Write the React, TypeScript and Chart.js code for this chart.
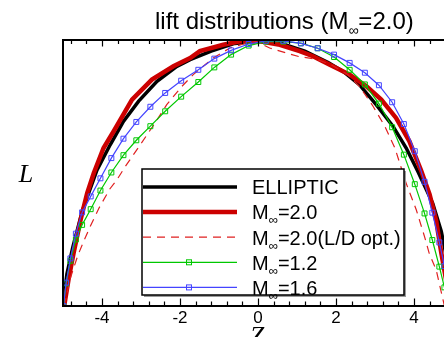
import React, { useEffect, useRef } from "react";
import { Chart, registerables } from "chart.js";
Chart.register(...registerables);

// ---- text ----
const titleMain = "lift distributions (M";
const titleSub = "∞";
const titleTail = "=2.0)";
const xAxisLabel = "Z";
const yAxisLabel = "L";
const xTickValues = [-4, -2, 0, 2, 4];
const xMin = -5;
const xMax = 5;
const yMin = 0;
const yMax = 1;
const minorStep = 0.4;

// ---- series ----
const ellipticX = [-5, -4.9, -4.75, -4.5, -4.13, -3.79, -3.45, -3.06, -2.59, -2.08, -1.74, -1.2, -0.6, 0, 0.6, 1.2, 1.8, 2.2, 2.6, 3.03, 3.46, 3.8, 4.1, 4.48, 4.7, 4.85, 5];
const ellipticL = [0, 0.12, 0.22, 0.36, 0.511, 0.606, 0.694, 0.77, 0.845, 0.901, 0.926, 0.958, 0.987, 0.995, 0.987, 0.958, 0.915, 0.88, 0.832, 0.757, 0.676, 0.594, 0.506, 0.386, 0.28, 0.17, 0];

const m20X = [-4.97, -4.86, -4.73, -4.55, -4.38, -4.21, -3.96, -3.7, -3.23, -2.72, -2.17, -1.74, -1.49, -0.89, -0.46, 0.05, 0.56, 1.07, 1.41, 1.84, 2.35, 2.78, 3.16, 3.54, 3.88, 4.18, 4.4, 4.57, 4.7, 4.82, 4.93];
const m20L = [0, 0.098, 0.198, 0.323, 0.424, 0.5, 0.594, 0.657, 0.776, 0.851, 0.901, 0.932, 0.958, 0.982, 0.995, 0.995, 0.982, 0.958, 0.939, 0.907, 0.87, 0.826, 0.776, 0.707, 0.62, 0.51, 0.42, 0.32, 0.2, 0.1, 0];

const m20OptX = [-4.97, -4.8, -4.62, -4.45, -4.3, -4.07, -3.8, -3.62, -3.4, -3.02, -2.64, -2.34, -1.95, -1.66, -1.15, -0.72, -0.29, -0.05, 0.3, 0.73, 1.07, 1.5, 1.9, 2.3, 2.6, 2.95, 3.25, 3.51, 3.8, 4.06, 4.27, 4.39, 4.57, 4.78];
const m20OptL = [0, 0.11, 0.19, 0.25, 0.3, 0.37, 0.44, 0.474, 0.525, 0.606, 0.688, 0.757, 0.826, 0.87, 0.932, 0.97, 0.989, 0.995, 0.97, 0.951, 0.937, 0.928, 0.905, 0.87, 0.826, 0.751, 0.676, 0.594, 0.461, 0.361, 0.261, 0.198, 0.135, 0];

const stationX = [-4.99, -4.92, -4.81, -4.67, -4.51, -4.29, -4.04, -3.76, -3.45, -3.12, -2.76, -2.38, -1.97, -1.53, -1.12, -0.69, -0.24, 0.2, 0.65, 1.1, 1.53, 1.95, 2.35, 2.74, 3.1, 3.44, 3.74, 4.02, 4.27, 4.47, 4.65, 4.78, 4.89, 4.97];
const m12L = [0, 0.085, 0.17, 0.25, 0.305, 0.364, 0.434, 0.502, 0.567, 0.623, 0.676, 0.732, 0.787, 0.842, 0.897, 0.945, 0.979, 0.994, 0.994, 0.988, 0.969, 0.936, 0.888, 0.833, 0.761, 0.672, 0.569, 0.458, 0.348, 0.248, 0.148, 0.07, 0.02, 0];
const m16L = [0, 0.088, 0.179, 0.272, 0.352, 0.412, 0.48, 0.556, 0.629, 0.692, 0.749, 0.801, 0.847, 0.888, 0.93, 0.961, 0.985, 0.997, 0.997, 0.987, 0.969, 0.945, 0.914, 0.877, 0.83, 0.766, 0.684, 0.582, 0.467, 0.351, 0.239, 0.15, 0.07, 0];

const seriesNames = ["ELLIPTIC", "M∞=2.0", "M∞=2.0(L/D opt.)", "M∞=1.2", "M∞=1.6"];
const seriesColors = ["#000000", "#cc0000", "#e02020", "#00c800", "#4444ff"];

const SANS = '"Liberation Sans", Arial, sans-serif';
const SERIF = '"Liberation Serif", "Times New Roman", serif';

const pts = (xs: number[], ys: number[]) => xs.map((x, i) => ({ x, y: ys[i] }));

function drawMixed(ctx: CanvasRenderingContext2D, text: string, x: number, y: number, size: number, subSize: number, subDrop: number) {
  const parts = text.split("∞");
  let cx = x;
  ctx.font = `${size}px ${SANS}`;
  ctx.fillText(parts[0], cx, y);
  cx += ctx.measureText(parts[0]).width;
  if (parts.length > 1) {
    ctx.font = `${subSize}px ${SANS}`;
    ctx.fillText("∞", cx, y + subDrop);
    cx += ctx.measureText("∞").width;
    ctx.font = `${size}px ${SANS}`;
    ctx.fillText(parts[1], cx, y);
  }
}

const decorPlugin = {
  id: "decor",
  afterDatasetsDraw(chart: any) {
    const { ctx, chartArea: a, scales } = chart;
    const xs = scales.x;
    ctx.save();
    ctx.strokeStyle = "#000";
    ctx.lineWidth = 2;
    ctx.beginPath();
    ctx.moveTo(a.left, a.bottom);
    ctx.lineTo(a.left, a.top);
    ctx.lineTo(a.right, a.top);
    ctx.lineTo(a.right, a.bottom);
    ctx.closePath();
    ctx.stroke();
    ctx.lineWidth = 1.2;
    const n = Math.round((xMax - xMin) / minorStep / 2);
    for (let i = -n; i <= n; i++) {
      const v = i * minorStep;
      if (v <= xMin || v >= xMax) continue;
      const px = Math.round(xs.getPixelForValue(v)) + 0.5;
      const major = Math.abs(v / 2 - Math.round(v / 2)) < 1e-6;
      const lb = major ? 7.5 : 4.5;
      const lt = major ? 6.5 : 4;
      ctx.beginPath();
      ctx.moveTo(px, a.bottom);
      ctx.lineTo(px, a.bottom - lb);
      ctx.moveTo(px, a.top);
      ctx.lineTo(px, a.top + lt);
      ctx.stroke();
    }
    ctx.restore();
  },
  afterDraw(chart: any) {
    const { ctx } = chart;
    ctx.save();
    ctx.fillStyle = "#000";
    ctx.textAlign = "left";
    ctx.textBaseline = "alphabetic";
    // title
    let tx = 155;
    ctx.font = `24px ${SANS}`;
    ctx.fillText(titleMain, tx, 29);
    tx += ctx.measureText(titleMain).width;
    ctx.font = `14px ${SANS}`;
    ctx.fillText(titleSub, tx, 35);
    tx += ctx.measureText(titleSub).width;
    ctx.font = `24px ${SANS}`;
    ctx.fillText(titleTail, tx, 29);

    // axis labels
    ctx.font = `italic 26px ${SERIF}`;
    ctx.textAlign = "center";
    ctx.fillText(yAxisLabel, 26, 182);
    ctx.fillText(xAxisLabel, 257, 344);

    // legend
    const bx = 142, by = 169, bw = 262, bh = 126;
    ctx.fillStyle = "#9a9a9a";
    ctx.fillRect(bx + 2, by + 2, bw, bh);
    ctx.fillStyle = "#fff";
    ctx.fillRect(bx, by, bw, bh);
    ctx.strokeStyle = "#000";
    ctx.lineWidth = 1.5;
    ctx.strokeRect(bx, by, bw, bh);

    const ds = chart.data.datasets;
    for (let i = 0; i < ds.length; i++) {
      const d = ds[i];
      const ry = 187 + i * 25.1;
      ctx.save();
      ctx.strokeStyle = d.borderColor;
      ctx.lineWidth = d.borderWidth;
      ctx.setLineDash(d.borderDash || []);
      ctx.beginPath();
      ctx.moveTo(bx + 1, ry);
      ctx.lineTo(237, ry);
      ctx.stroke();
      ctx.setLineDash([]);
      if (d.pointRadius > 0) {
        const s = 2.5;
        ctx.lineWidth = 1;
        ctx.strokeRect(189 - s, ry - s, 2 * s, 2 * s);
      }
      ctx.restore();
      ctx.fillStyle = "#000";
      ctx.textAlign = "left";
      drawMixed(ctx, d.label, 252, ry + 7.3, 20, 13, 5);
    }
    ctx.restore();
  },
};

export default function App() {
  const ref = useRef<HTMLCanvasElement | null>(null);
  useEffect(() => {
    if (!ref.current) return;
    const mk = (i: number, data: any[], extra: any) => ({
      label: seriesNames[i],
      data,
      borderColor: seriesColors[i],
      backgroundColor: seriesColors[i],
      pointRadius: 0,
      tension: 0,
      fill: false,
      ...extra,
    });
    const chart = new Chart(ref.current, {
      type: "line",
      data: {
        datasets: [
          mk(0, pts(ellipticX, ellipticL), { borderWidth: 3.5, order: 5 }),
          mk(1, pts(m20X, m20L), { borderWidth: 4.5, order: 4 }),
          mk(2, pts(m20OptX, m20OptL), { borderWidth: 1.2, borderDash: [8, 6], order: 3 }),
          mk(3, pts(stationX, m12L), {
            borderWidth: 1.2, order: 2, pointRadius: 3.5, pointStyle: "rect",
            pointBorderWidth: 1, pointBackgroundColor: "rgba(0,0,0,0)", pointBorderColor: seriesColors[3],
          }),
          mk(4, pts(stationX, m16L), {
            borderWidth: 1.2, order: 1, pointRadius: 3.5, pointStyle: "rect",
            pointBorderWidth: 1, pointBackgroundColor: "rgba(0,0,0,0)", pointBorderColor: seriesColors[4],
          }),
        ],
      },
      options: {
        animation: false,
        responsive: false,
        devicePixelRatio: 1,
        layout: { padding: { left: 63, top: 40, right: 7, bottom: 0 } },
        plugins: {
          legend: { display: false },
          title: { display: false },
          tooltip: { enabled: false },
        },
        scales: {
          x: {
            type: "linear",
            position: "bottom",
            min: xMin,
            max: xMax,
            afterBuildTicks: (s: any) => {
              s.ticks = xTickValues.map((v) => ({ value: v }));
            },
            afterFit: (s: any) => {
              s.height = 31;
            },
            grid: { display: false, drawTicks: false },
            border: { display: false },
            ticks: {
              color: "#000",
              padding: 2,
              autoSkip: false,
              maxRotation: 0,
              font: { family: SANS, size: 17, lineHeight: 1.2 },
              callback: (v: any) => String(v),
            },
          },
          y: { type: "linear", min: yMin, max: yMax, display: false },
        },
      },
      plugins: [decorPlugin],
    } as any);
    return () => chart.destroy();
  }, []);
  return (
    <div style={{ position: "absolute", left: 0, top: 0, width: 444, height: 337, overflow: "hidden", background: "#fff" }}>
      <canvas ref={ref} width={460} height={337} style={{ width: 460, height: 337, display: "block" }} />
    </div>
  );
}
